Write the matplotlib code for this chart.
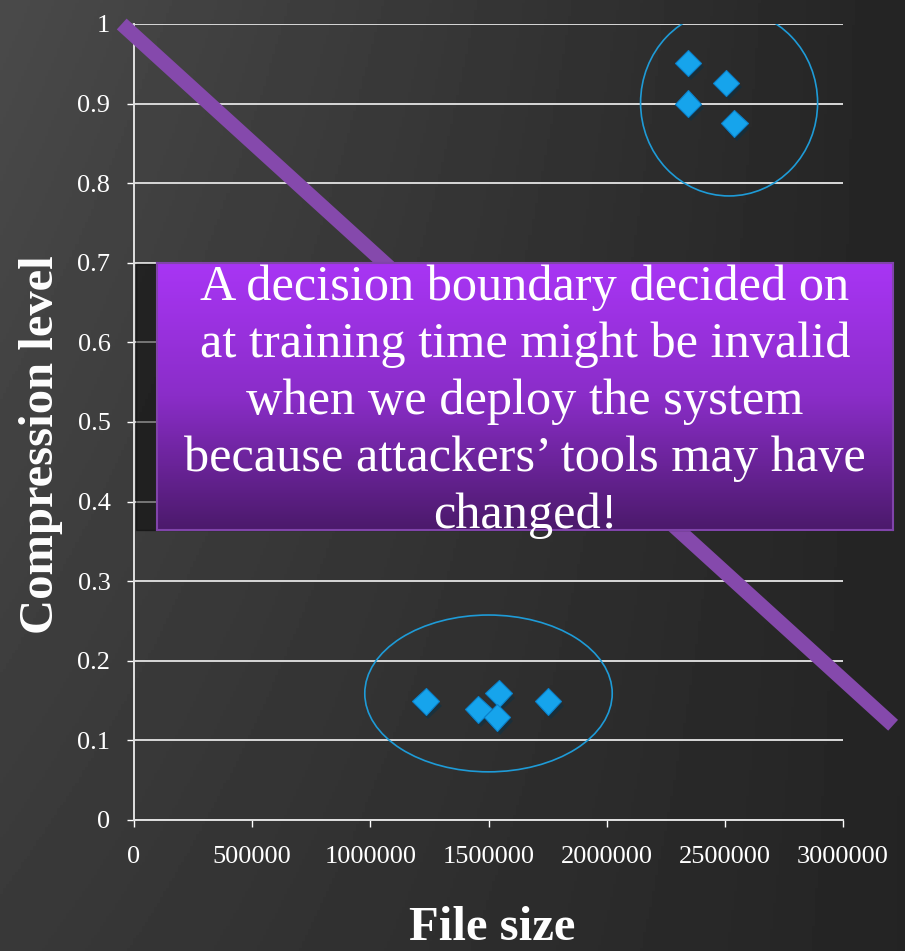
import numpy as np
import matplotlib.pyplot as plt
import matplotlib.patheffects as pe
from matplotlib.patches import Ellipse, Rectangle
from matplotlib.colors import LinearSegmentedColormap

plt.rcParams['font.family'] = ['Liberation Serif', 'DejaVu Serif']

# cluster near the top right
file_size_a = [2345000, 2505000, 2345000, 2540000]
compression_a = [0.951, 0.926, 0.900, 0.875]
# cluster near the bottom
file_size_b = [1234000, 1457000, 1543000, 1535000, 1752000]
compression_b = [0.149, 0.139, 0.159, 0.129, 0.149]

# hand drawn decision boundary
boundary_x = [-52000, 3212000]
boundary_y = [1.0, 0.119]

x_ticks = [0, 500000, 1000000, 1500000, 2000000, 2500000, 3000000]
y_ticks = [0, 0.1, 0.2, 0.3, 0.4, 0.5, 0.6, 0.7, 0.8, 0.9, 1.0]
y_tick_labels = ['0', '0.1', '0.2', '0.3', '0.4', '0.5', '0.6', '0.7', '0.8', '0.9', '1']

# circles round the clusters: centre x, centre y, width, height
ring_a = (2518000, 0.901, 749000, 0.234)
ring_b = (1500000, 0.159, 1047000, 0.197)

message = ['A decision boundary decided on',
           'at training time might be invalid',
           'when we deploy the system',
           'because attackers\u2019 tools may have',
           'changed!']

W, H = 905, 951
fig = plt.figure(figsize=(W / 100, H / 100), dpi=100)

# dark slide background, lighter towards the top left
bg = fig.add_axes([0, 0, 1, 1], zorder=-1)
bg.axis('off')
gx, gy = np.meshgrid(np.linspace(0, 1, 300), np.linspace(0, 1, 300))
shade = 0.14 + 0.15 * (1 - gx) * (1 - 0.45 * gy)
bg.imshow(shade, cmap='gray', vmin=0, vmax=1, extent=[0, 1, 0, 1], aspect='auto')

ax = fig.add_axes([134 / W, 1 - 820 / H, (843 - 134) / W, (820 - 24) / H], zorder=1)
ax.set_facecolor('none')
ax.set_xlim(0, 3000000)
ax.set_ylim(0, 1)
ax.set_xticks(x_ticks, [str(v) for v in x_ticks])
ax.set_yticks(y_ticks, y_tick_labels)
ax.grid(axis='y', color='#d8d8d8', lw=1.4)
ax.set_axisbelow(True)
for side in ['top', 'right']:
    ax.spines[side].set_visible(False)
for side in ['left', 'bottom']:
    ax.spines[side].set_color('#e0e0e0')
    ax.spines[side].set_linewidth(1.4)
ax.tick_params(axis='both', colors='white', length=5, width=1, labelsize=19)
ax.tick_params(axis='y', pad=12)
ax.tick_params(axis='x', pad=14)

ax.plot(boundary_x, boundary_y, color='#8549AC', lw=10.5,
        solid_capstyle='butt', clip_on=False, zorder=3)

shadow = [pe.SimplePatchShadow(offset=(2, -3), alpha=0.5), pe.Normal()]
for xs, ys in [(file_size_a, compression_a), (file_size_b, compression_b)]:
    ax.plot(xs, ys, ls='none', marker='D', ms=13.5, mfc='#16A4EC', mec='#0B82CC',
            mew=0.8, zorder=5, path_effects=shadow)

for cx, cy, w, h in [ring_a, ring_b]:
    ax.add_patch(Ellipse((cx, cy), w, h, fill=False, ec='#1E9BD7', lw=1.2, zorder=4))

# purple call-out box with a soft shadow on its left
fig.patches.append(Rectangle((136 / W, 1 - 530 / H), (880 - 136) / W, (530 - 264) / H,
                             transform=fig.transFigure, color='black', alpha=0.45, zorder=2))
box = fig.add_axes([157 / W, 1 - 530 / H, (893 - 157) / W, (530 - 263) / H], zorder=3)
purple = LinearSegmentedColormap.from_list('purple', ['#A835F4', '#8A2DC8', '#4C1A6C'])
box.imshow(np.linspace(0, 1, 100)[:, None], cmap=purple, aspect='auto', extent=[0, 1, 0, 1])
box.set_xticks([])
box.set_yticks([])
for s in box.spines.values():
    s.set_color('#8044AA')
    s.set_linewidth(1.5)

baselines = [300, 357, 414, 471, 528]
for line, b in zip(message, baselines):
    fig.text(525 / W, 1 - b / H, line, ha='center', va='baseline',
             fontsize=36.3, color='white', zorder=5)

fig.text(41 / W, 1 - 445 / H, 'Compression level', rotation=90, ha='center', va='center',
         fontsize=35, fontweight='bold', color='white')
fig.text(492 / W, 1 / H, 'File size', ha='center', va='bottom',
         fontsize=35, fontweight='bold', color='white')

fig.savefig('out.png', dpi=100)
